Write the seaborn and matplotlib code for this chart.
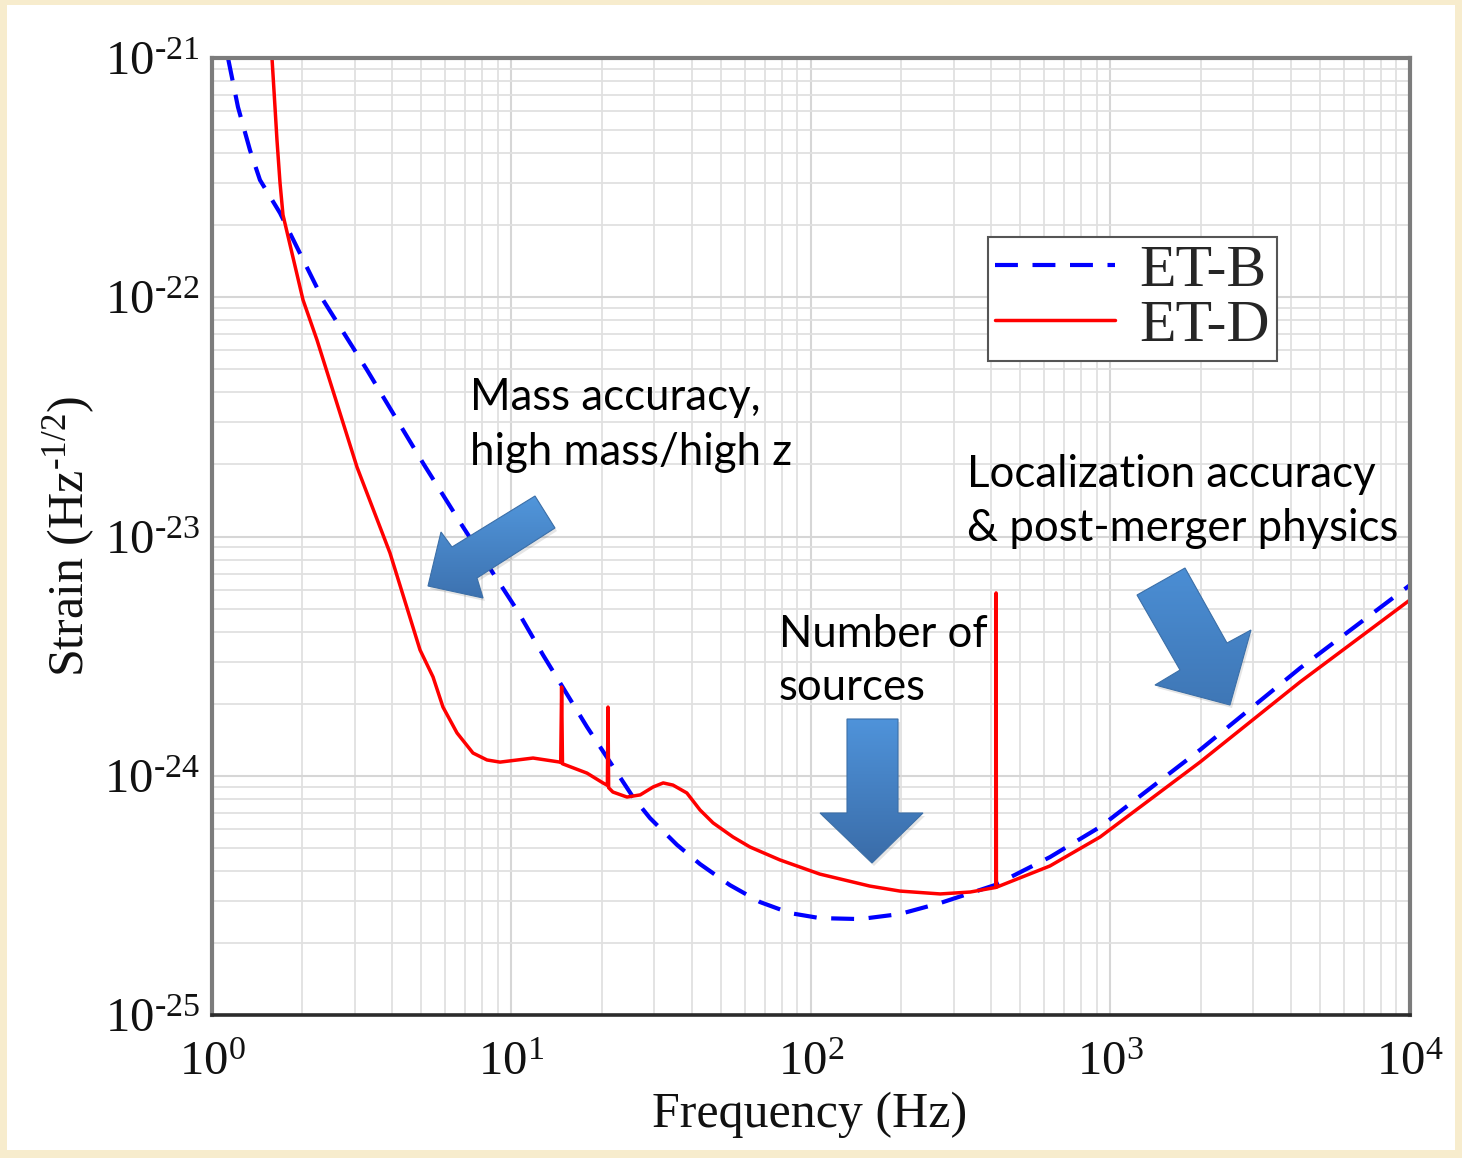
import numpy as np
import pandas as pd
import matplotlib
matplotlib.use("Agg")
import matplotlib.pyplot as plt
from matplotlib.patches import Polygon, Rectangle
from matplotlib.colors import LinearSegmentedColormap
from matplotlib.ticker import FixedLocator, FuncFormatter, LogLocator, NullFormatter
import seaborn as sns

# Einstein Telescope sensitivity curves (strain amplitude spectral density)
etb_freq = [1.131, 1.221, 1.339, 1.446, 1.687, 2.348, 3.293, 5.064, 6.888, 10.43, 12.74,
            17.87, 25.45, 29.0, 35.7, 42.6, 53.6, 67.6, 85.1, 107, 146, 198, 270, 411,
            628, 923, 1990, 4296, 10000]
etb_log_strain = [-21.000, -21.205, -21.385, -21.510, -21.648, -22.011, -22.304, -22.693,
                  -22.960, -23.307, -23.495, -23.796, -24.089, -24.177, -24.289, -24.369,
                  -24.457, -24.528, -24.574, -24.595, -24.599, -24.578, -24.532, -24.457,
                  -24.340, -24.214, -23.892, -23.550, -23.203]

etd_freq = [1.586, 1.623, 1.648, 1.687, 1.726, 2.013, 2.242, 3.049, 3.929, 4.949, 5.470,
            5.905, 6.577, 7.437, 8.282, 9.155, 11.80, 14.52, 14.6, 14.7, 14.8, 17.87,
            20.2, 20.9, 21.0, 21.1, 21.8, 24.3, 26.9, 29.7, 32.1, 34.6, 38.5, 42.6,
            47.1, 54.9, 62.6, 78.8, 107, 157, 198, 270, 340, 405, 414, 415, 416, 628,
            923, 1990, 4296, 10000]
etd_log_strain = [-21.000, -21.205, -21.343, -21.522, -21.656, -22.011, -22.179, -22.710,
                  -23.069, -23.474, -23.587, -23.713, -23.821, -23.905, -23.934, -23.943,
                  -23.926, -23.943, -23.945, -23.629, -23.950, -23.989, -24.030, -24.040,
                  -23.713, -24.050, -24.068, -24.089, -24.080, -24.047, -24.030, -24.039,
                  -24.072, -24.143, -24.197, -24.256, -24.298, -24.352, -24.411, -24.461,
                  -24.482, -24.494, -24.486, -24.469, -24.467, -23.236, -24.466, -24.377,
                  -24.256, -23.943, -23.608, -23.265]

x_ticks = [1, 10, 100, 1000, 10000]
y_ticks = [1e-25, 1e-24, 1e-23, 1e-22, 1e-21]
series_names = ["ET-B", "ET-D"]

etb = pd.DataFrame({"freq": etb_freq, "strain": 10.0 ** np.array(etb_log_strain)})
etd = pd.DataFrame({"freq": etd_freq, "strain": 10.0 ** np.array(etd_log_strain)})

W, H = 1462, 1158
sns.set_theme(style="whitegrid")
plt.rcParams["font.family"] = ["Liberation Serif", "DejaVu Serif"]
plt.rcParams["mathtext.fontset"] = "custom"
plt.rcParams["mathtext.rm"] = "Liberation Serif"
plt.rcParams["mathtext.it"] = "Liberation Serif:italic"
plt.rcParams["mathtext.bf"] = "Liberation Serif:bold"

fig = plt.figure(figsize=(W / 100, H / 100), dpi=100, facecolor="#F7ECCD")
# white slide panel behind everything
fig.patches.append(Rectangle((7 / W, 8 / H), 1448 / W, 1145 / H, transform=fig.transFigure,
                             facecolor="white", edgecolor="none", zorder=-10))

ax = fig.add_axes([212 / W, 1 - 1015 / H, 1198 / W, 957 / H])
ax.set_facecolor("white")
ax.set_xscale("log")
ax.set_yscale("log")

sns.lineplot(data=etb, x="freq", y="strain", ax=ax, color="#0000FF", linewidth=3.0,
             estimator=None, sort=True, label=series_names[0])
sns.lineplot(data=etd, x="freq", y="strain", ax=ax, color="#FF0000", linewidth=2.5,
             estimator=None, sort=True, label=series_names[1])
ax.lines[0].set_dashes((5.5, 3.5))
ax.lines[1].set_solid_joinstyle("round")
ax.set_xlim(1, 1e4)
ax.set_ylim(1e-25, 1e-21)

# grid: decades and minor subdivisions
ax.xaxis.set_major_locator(FixedLocator(x_ticks))
ax.yaxis.set_major_locator(FixedLocator(y_ticks))
ax.xaxis.set_minor_locator(LogLocator(base=10, subs=np.arange(2, 10), numticks=20))
ax.yaxis.set_minor_locator(LogLocator(base=10, subs=np.arange(2, 10), numticks=20))
ax.xaxis.set_minor_formatter(NullFormatter())
ax.yaxis.set_minor_formatter(NullFormatter())
ax.grid(True, which="major", color="#d6d6d6", linewidth=1.5)
ax.grid(True, which="minor", color="#e0e0e0", linewidth=1.3)
ax.set_axisbelow(True)


def pow_label(v, pos):
    e = int(round(np.log10(v)))
    if e < 0:
        return r"$\mathregular{10^{\text{-}%d}}$" % (-e)
    return r"$\mathregular{10^{%d}}$" % e


ax.xaxis.set_major_formatter(FuncFormatter(pow_label))
ax.yaxis.set_major_formatter(FuncFormatter(pow_label))
ax.tick_params(axis="both", which="both", length=0, labelsize=35, colors="#111111")
ax.tick_params(axis="x", pad=19)
ax.tick_params(axis="y", pad=9)

ax.set_xlabel("Frequency (Hz)", fontsize=36, color="#111111")
ax.set_ylabel(r"Strain (Hz$^{\mathregular{\text{-}1/2}}$)", fontsize=36, color="#111111")
ax.xaxis.set_label_coords(0.499, -0.08)
ax.yaxis.set_label_coords(-0.096, 0.5)

for side in ["left", "top", "right"]:
    ax.spines[side].set_color("#7c7c7c")
    ax.spines[side].set_linewidth(3.0)
ax.spines["bottom"].set_color("#2b2b2b")
ax.spines["bottom"].set_linewidth(2.6)

handles, labels = ax.get_legend_handles_labels()
leg = ax.legend(handles, labels, loc="upper left", bbox_to_anchor=(988 / W, 1 - 237 / H),
                bbox_transform=fig.transFigure, borderaxespad=0, fontsize=43,
                frameon=True, fancybox=False, framealpha=1, edgecolor="#555555",
                handlelength=2.0, handletextpad=0.42, borderpad=0.12, labelspacing=0.0)
leg.get_frame().set_linewidth(1.5)

# annotation layer in pixel coordinates
ov = fig.add_axes([0, 0, 1, 1], facecolor="none")
ov.set_axis_off()
ov.set_xlim(0, W)
ov.set_ylim(H, 0)
ov.set_autoscale_on(False)

arrow_mass = [(428, 586), (441, 532), (452, 547), (535, 496), (555, 528), (477, 578), (483, 598)]
arrow_sources = [(847, 719), (898, 719), (898, 813), (923, 813), (872, 863), (820, 813), (847, 813)]
arrow_local = [(1137, 595), (1185, 568), (1227, 643), (1251, 630), (1230, 705), (1155, 685), (1180, 670)]


def block_arrow(pts, top, bottom):
    shadow = Polygon([(x + 2, y + 3) for x, y in pts], closed=True, facecolor="#000000",
                     alpha=0.10, edgecolor="none", zorder=4)
    ov.add_patch(shadow)
    poly = Polygon(pts, closed=True, facecolor="none", edgecolor="#3b6fa8", linewidth=0.8, zorder=6)
    ov.add_patch(poly)
    xs, ys = zip(*pts)
    grad = np.linspace(0, 1, 256).reshape(-1, 1)
    cmap = LinearSegmentedColormap.from_list("arrow", [top, bottom])
    im = ov.imshow(grad, cmap=cmap, extent=(min(xs), max(xs), max(ys), min(ys)),
                   aspect="auto", origin="upper", zorder=5, interpolation="bilinear")
    im.set_clip_path(poly)


block_arrow(arrow_mass, "#5196db", "#3d72b0")
block_arrow(arrow_sources, "#4f93da", "#3a6ca8")
block_arrow(arrow_local, "#4b8ed4", "#3f77b6")
ov.set_xlim(0, W)
ov.set_ylim(H, 0)

note_font = dict(family=["Lato", "DejaVu Sans"], fontsize=31.5, color="black", va="baseline", ha="left")
ov.text(470, 410, "Mass accuracy,", **note_font)
ov.text(470, 465, "high mass/high z", **note_font)
ov.text(779, 647, "Number of", **note_font)
ov.text(779, 700, "sources", **note_font)
ov.text(967, 487, "Localization accuracy", **note_font)
ov.text(967, 541, "& post-merger physics", **note_font)

fig.savefig("out.png", dpi=100, facecolor=fig.get_facecolor())
